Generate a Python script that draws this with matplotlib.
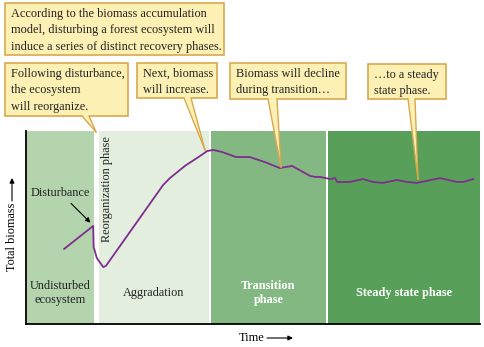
import matplotlib
matplotlib.use("Agg")
import matplotlib.pyplot as plt
from matplotlib.patches import Rectangle, Polygon

plt.rcParams["font.family"] = ["Liberation Serif", "DejaVu Serif"]

# phases (time in % of axis width)
phase_start = [0.2, 16.1, 40.7, 66.5]
phase_end = [15.0, 40.3, 66.1, 100.0]
phase_colors = ["#b4d4ad", "#e3eedf", "#84b882", "#58a05a"]
phase_labels = ["Undisturbed\necosystem", "Aggradation", "Transition\nphase", "Steady state phase"]
phase_bold = [False, False, True, True]

# biomass trajectory (arbitrary units 0-100)
time = [8.4, 14.8, 14.9, 15.6, 17.0, 17.6, 30.2, 31.7, 35.0, 38.3, 39.9, 41.2, 43.2,
        46.3, 49.3, 52.6, 55.9, 58.6, 62.6, 63.7, 64.8, 67.0, 68.1, 68.5, 71.4, 74.2,
        76.4, 78.6, 81.7, 83.9, 86.1, 91.2, 94.9, 96.3, 98.5]
biomass = [38.9, 50.8, 39.9, 34.2, 29.5, 30.1, 72.0, 75.6, 81.9, 87.0, 89.6, 90.2, 89.1,
           86.5, 86.5, 83.9, 80.8, 81.9, 76.7, 76.2, 76.2, 75.1, 75.6, 73.6, 73.6, 75.1,
           73.6, 73.1, 74.6, 73.6, 73.1, 75.6, 73.6, 73.6, 75.1]

# callouts: text, box (x0, y0, x1, y1) in figure pixels, pointer base xs, pointer tip
callouts = [
    ("According to the biomass accumulation\nmodel, disturbing a forest ecosystem will\n"
     "induce a series of distinct recovery phases.", (5, 3, 224, 55), None, None),
    ("Following disturbance,\nthe ecosystem\nwill reorganize.", (5, 63, 128, 116), (82, 89), (96, 132)),
    ("Next, biomass\nwill increase.", (137, 63, 217, 98), (184, 191), (205, 150)),
    ("Biomass will decline\nduring transition\u2026", (230, 63, 346, 99), (268, 277), (281, 167)),
    ("\u2026to a steady\nstate phase.", (368, 64, 446, 99), (408, 415), (418, 179)),
]

W, H = 485, 347
FS = 8.8
fig = plt.figure(figsize=(W / 100, H / 100), dpi=100)
ax = fig.add_axes([26 / W, (H - 324) / H, 454 / W, 193 / H])
ax.set_xlim(0, 100)
ax.set_ylim(0, 100)
for s in ["top", "right"]:
    ax.spines[s].set_visible(False)
for s in ["left", "bottom"]:
    ax.spines[s].set_linewidth(1.3)
ax.set_xticks([]); ax.set_yticks([])

for x0, x1, c, lab, b in zip(phase_start, phase_end, phase_colors, phase_labels, phase_bold):
    ax.axvspan(x0, x1, color=c, lw=0, zorder=0)
    ax.text((x0 + x1) / 2, 16, lab, ha="center", va="center", fontsize=FS,
            color="white" if b else "#222222", fontweight="bold" if b else "normal",
            linespacing=1.2)

ax.plot(time, biomass, color="#7d2e8f", lw=1.3, zorder=3)

ax.text(17.9, 70, "Reorganization phase", rotation=90, ha="center", va="center",
        fontsize=FS, color="#222222")
ax.annotate("Disturbance", xy=(14.2, 52.5), xytext=(1.0, 68), fontsize=FS,
            color="#222222", va="center",
            arrowprops=dict(arrowstyle="-|>", color="black", lw=0.8,
                            shrinkA=2, shrinkB=0, mutation_scale=7))

# overlay in figure pixels for axis titles and callouts
ov = fig.add_axes([0, 0, 1, 1], zorder=5)
ov.set_xlim(0, W); ov.set_ylim(H, 0); ov.axis("off")
ov.patch.set_alpha(0)

ov.text(12, 237, "Total biomass", rotation=90, ha="center", va="center", fontsize=FS)
ov.annotate("", xy=(12, 178), xytext=(12, 201),
            arrowprops=dict(arrowstyle="-|>", color="black", lw=0.8, mutation_scale=7,
                            shrinkA=0, shrinkB=0))
ov.text(252, 338, "Time", ha="center", va="center", fontsize=FS)
ov.annotate("", xy=(293, 338), xytext=(267, 338),
            arrowprops=dict(arrowstyle="-|>", color="black", lw=0.8, mutation_scale=7,
                            shrinkA=0, shrinkB=0))

fill, edge = "#fdf0b4", "#d8a84f"
for txt, (x0, y0, x1, y1), base, tip in callouts:
    ov.add_patch(Rectangle((x0, y0), x1 - x0, y1 - y0, facecolor=fill, edgecolor=edge, lw=1.2))
    if base is not None:
        ov.add_patch(Polygon([(base[0], y1 - 1), (base[1], y1 - 1), tip], closed=True,
                             facecolor=fill, edgecolor="none"))
        ov.plot([base[0], tip[0]], [y1, tip[1]], color=edge, lw=1.0)
        ov.plot([base[1], tip[0]], [y1, tip[1]], color=edge, lw=1.0)
    ov.text(x0 + 6, y0 + 5, txt, ha="left", va="top", fontsize=FS, linespacing=1.48,
            color="#222222")

fig.savefig("out.png", dpi=100)
